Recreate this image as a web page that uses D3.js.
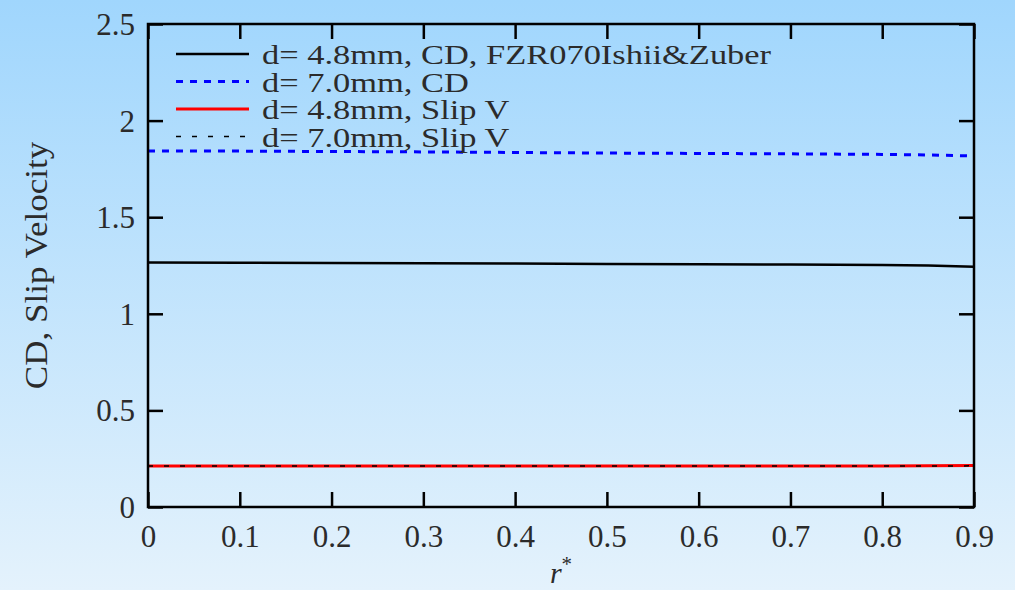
<!DOCTYPE html>
<html><head><meta charset="utf-8">
<script src="https://cdn.jsdelivr.net/npm/d3@7"></script>
<style>html,body{margin:0;padding:0;overflow:hidden}svg{display:block}</style>
</head><body>
<svg id="c" width="1015" height="590"></svg>
<script>
const rValues = [0, 0.1, 0.2, 0.3, 0.4, 0.5, 0.6, 0.7, 0.8, 0.85, 0.9];
const cd48 = [1.265, 1.264, 1.263, 1.262, 1.260, 1.258, 1.257, 1.255, 1.253, 1.250, 1.243];
const cd70 = [1.843, 1.842, 1.840, 1.838, 1.835, 1.832, 1.830, 1.828, 1.825, 1.822, 1.817];
const slip48 = [0.212, 0.212, 0.212, 0.212, 0.212, 0.212, 0.212, 0.212, 0.212, 0.213, 0.215];
const slip70 = [0.212, 0.212, 0.212, 0.212, 0.212, 0.212, 0.212, 0.212, 0.212, 0.212, 0.213];
const xTicks = [0, 0.1, 0.2, 0.3, 0.4, 0.5, 0.6, 0.7, 0.8, 0.9];
const yTicks = [0, 0.5, 1, 1.5, 2, 2.5];
const seriesNames = ["d= 4.8mm, CD, FZR070Ishii&Zuber", "d= 7.0mm, CD", "d= 4.8mm, Slip V", "d= 7.0mm, Slip V"];
const seriesValues = [cd48, cd70, slip48, slip70];
const seriesStyles = [
  {color: "#000", width: 2.5, dash: null},
  {color: "#0000ff", width: 3, dash: "7,7"},
  {color: "#ff0000", width: 3, dash: null},
  {color: "#000", width: 1.5, dash: "5,11"}
];

const svg = d3.select("#c");
const defs = svg.append("defs");
const g = defs.append("linearGradient").attr("id","bg").attr("x1",0).attr("y1",0).attr("x2",0).attr("y2",1);
g.append("stop").attr("offset","0%").attr("stop-color","rgb(160,214,253)");
g.append("stop").attr("offset","100%").attr("stop-color","rgb(228,242,252)");
svg.append("rect").attr("width",1015).attr("height",590).attr("fill","url(#bg)");

const L = 148, R = 974, T = 24, B = 507;
const x = d3.scaleLinear().domain([0, 0.9]).range([L, R]);
const y = d3.scaleLinear().domain([0, 2.5]).range([B, T]);
const font = "'Liberation Serif', serif";
const txtColor = "#2b2b2b";
const stretch = 1.13;

const line = d3.line().x((d,i)=>x(rValues[i])).y(d=>y(d));
[0,1,2,3].forEach(k=>{
  const s = seriesStyles[k];
  svg.append("path").datum(seriesValues[k]).attr("d", line)
    .attr("fill","none").attr("stroke", s.color).attr("stroke-width", s.width)
    .attr("stroke-dasharray", s.dash);
});

const tickLen = 15;
const axB = svg.append("g").attr("transform",`translate(0,${B})`)
  .call(d3.axisBottom(x).tickValues(xTicks).tickSize(-tickLen).tickFormat(d3.format("")).tickPadding(18));
const axT = svg.append("g").attr("transform",`translate(0,${T})`)
  .call(d3.axisTop(x).tickValues(xTicks).tickSize(-tickLen).tickFormat(""));
const axL = svg.append("g").attr("transform",`translate(${L},0)`)
  .call(d3.axisLeft(y).tickValues(yTicks).tickSize(-tickLen).tickFormat(d3.format("")).tickPadding(13));
const axR = svg.append("g").attr("transform",`translate(${R},0)`)
  .call(d3.axisRight(y).tickValues(yTicks).tickSize(-tickLen).tickFormat(""));
[axB,axT,axL,axR].forEach(a=>{
  a.select(".domain").remove();
  a.selectAll("line").attr("stroke","#000").attr("stroke-width",2.5);
  a.selectAll("text").attr("font-family",font).attr("font-size",31).attr("fill",txtColor);
});
axB.selectAll("text").attr("dy","0.71em");
axL.selectAll("text").attr("dy","0.34em");

svg.append("rect").attr("x",L).attr("y",T).attr("width",R-L).attr("height",B-T)
  .attr("fill","none").attr("stroke","#000").attr("stroke-width",2.5);

svg.append("text").attr("transform",`translate(47,${(T+B)/2}) rotate(-90) scale(${stretch},1)`)
  .attr("text-anchor","middle").attr("font-family",font).attr("font-size",31).attr("fill",txtColor)
  .text("CD, Slip Velocity");
const xt = svg.append("text").attr("x",(L+R)/2).attr("y",583).attr("text-anchor","middle")
  .attr("font-family",font).attr("font-size",28).attr("fill",txtColor);
xt.append("tspan").attr("font-style","italic").attr("font-size",30).text("r");
xt.append("tspan").attr("font-size",21).attr("dy",-12).text("*");

const legY0 = 54, legDy = 27.5;
seriesNames.forEach((name,i)=>{
  const s = seriesStyles[i];
  const yy = legY0 + i*legDy;
  svg.append("line").attr("x1",176).attr("x2",249).attr("y1",yy).attr("y2",yy)
    .attr("stroke",s.color).attr("stroke-width",s.width).attr("stroke-dasharray",s.dash);
  svg.append("text").attr("transform",`translate(262,${yy+10}) scale(1.23,1)`)
    .attr("font-family",font).attr("font-size",28)
    .attr("fill",txtColor).text(name);
});
</script>
</body></html>
